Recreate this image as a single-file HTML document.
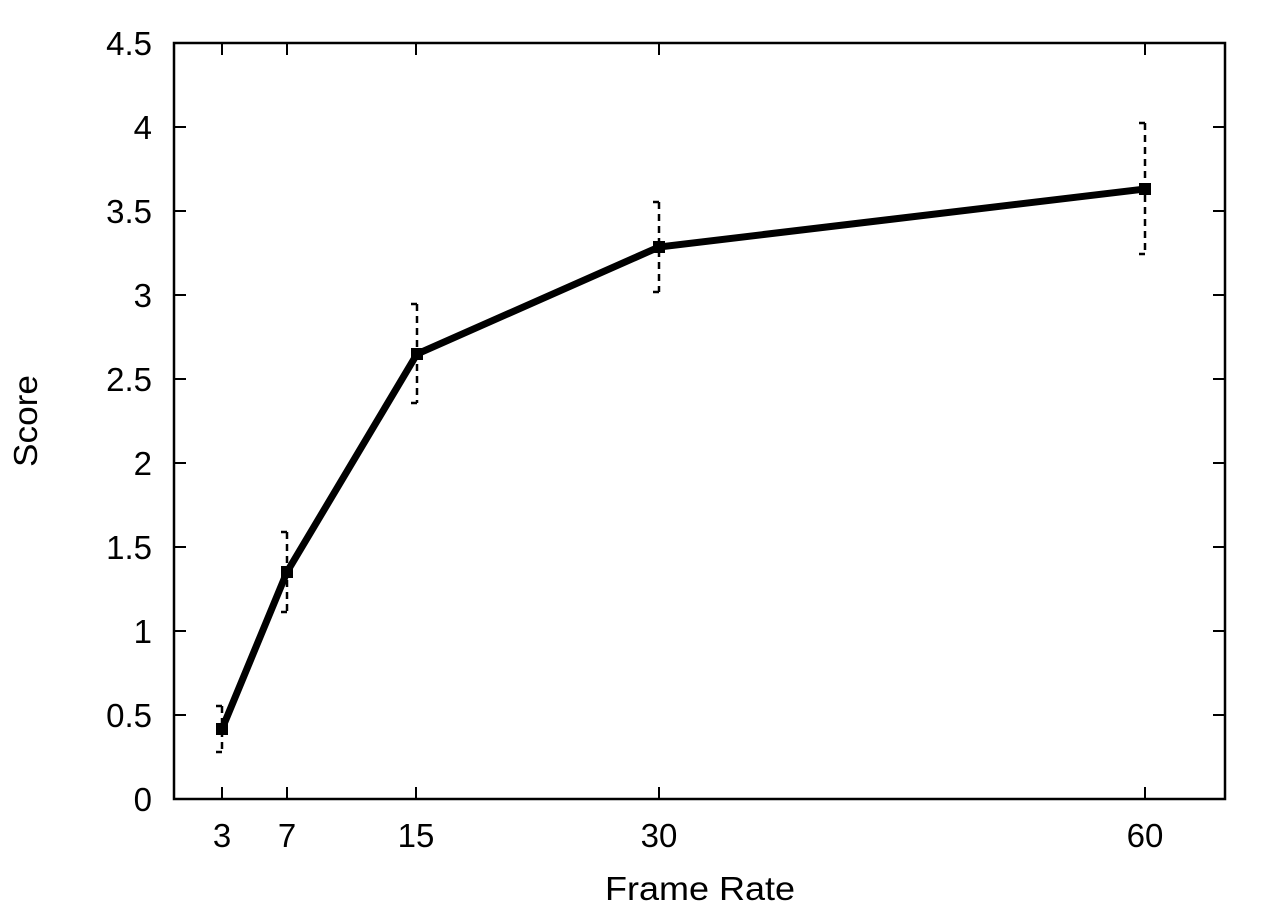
<!DOCTYPE html>
<html><head><meta charset="utf-8"><style>
html,body{margin:0;padding:0;background:#fff;}
svg{display:block;}
text{font-family:"Liberation Sans",Arial,sans-serif;fill:#000;}
</style></head><body>
<svg width="1267" height="910" viewBox="0 0 1267 910" xmlns="http://www.w3.org/2000/svg">
<rect x="174" y="43" width="1051" height="756" fill="none" stroke="#000" stroke-width="2.5"/>
<g stroke="#000" stroke-width="2">
<line x1="174" y1="715" x2="186" y2="715"/><line x1="1225" y1="715" x2="1213" y2="715"/>
<line x1="174" y1="631" x2="186" y2="631"/><line x1="1225" y1="631" x2="1213" y2="631"/>
<line x1="174" y1="547" x2="186" y2="547"/><line x1="1225" y1="547" x2="1213" y2="547"/>
<line x1="174" y1="463" x2="186" y2="463"/><line x1="1225" y1="463" x2="1213" y2="463"/>
<line x1="174" y1="379" x2="186" y2="379"/><line x1="1225" y1="379" x2="1213" y2="379"/>
<line x1="174" y1="295" x2="186" y2="295"/><line x1="1225" y1="295" x2="1213" y2="295"/>
<line x1="174" y1="211" x2="186" y2="211"/><line x1="1225" y1="211" x2="1213" y2="211"/>
<line x1="174" y1="127" x2="186" y2="127"/><line x1="1225" y1="127" x2="1213" y2="127"/>
<line x1="222" y1="799" x2="222" y2="787"/><line x1="222" y1="43" x2="222" y2="55"/>
<line x1="287" y1="799" x2="287" y2="787"/><line x1="287" y1="43" x2="287" y2="55"/>
<line x1="416" y1="799" x2="416" y2="787"/><line x1="416" y1="43" x2="416" y2="55"/>
<line x1="659" y1="799" x2="659" y2="787"/><line x1="659" y1="43" x2="659" y2="55"/>
<line x1="1145" y1="799" x2="1145" y2="787"/><line x1="1145" y1="43" x2="1145" y2="55"/>
</g>
<g font-size="33" text-anchor="end">
<text x="152" y="811">0</text><text x="152" y="727">0.5</text><text x="152" y="643">1</text>
<text x="152" y="559">1.5</text><text x="152" y="475">2</text><text x="152" y="391">2.5</text>
<text x="152" y="307">3</text><text x="152" y="223">3.5</text><text x="152" y="139">4</text>
<text x="152" y="55">4.5</text>
</g>
<g font-size="33" text-anchor="middle">
<text x="222" y="847">3</text><text x="287" y="847">7</text><text x="416" y="847">15</text>
<text x="659" y="847">30</text><text x="1145" y="847">60</text>
<text x="700" y="900" textLength="190" lengthAdjust="spacingAndGlyphs">Frame Rate</text>
<text transform="translate(37,421) rotate(-90)" textLength="92" lengthAdjust="spacingAndGlyphs">Score</text>
</g>
<g stroke="#000" stroke-width="2.5" fill="none">
<g stroke-dasharray="7,5">
<line x1="222" y1="706" x2="222" y2="752"/>
<line x1="287" y1="532" x2="287" y2="612"/>
<line x1="417" y1="304" x2="417" y2="403"/>
<line x1="659" y1="202" x2="659" y2="292"/>
<line x1="1145" y1="123" x2="1145" y2="254"/>
</g>
<path d="M216 706H222M216 752H222M281 532H287M281 612H287M411 304H417M411 403H417M653 202H659M653 292H659M1139 123H1145M1139 254H1145"/>
</g>
<polyline points="222,729 287,572 417,354 659,247 1145,189" fill="none" stroke="#000" stroke-width="7" stroke-linejoin="miter"/>
<g fill="#000">
<rect x="216" y="723" width="12" height="12"/>
<rect x="281" y="566" width="12" height="12"/>
<rect x="411" y="348" width="12" height="12"/>
<rect x="653" y="241" width="12" height="12"/>
<rect x="1139" y="183" width="12" height="12"/>
</g>
</svg>
</body></html>
